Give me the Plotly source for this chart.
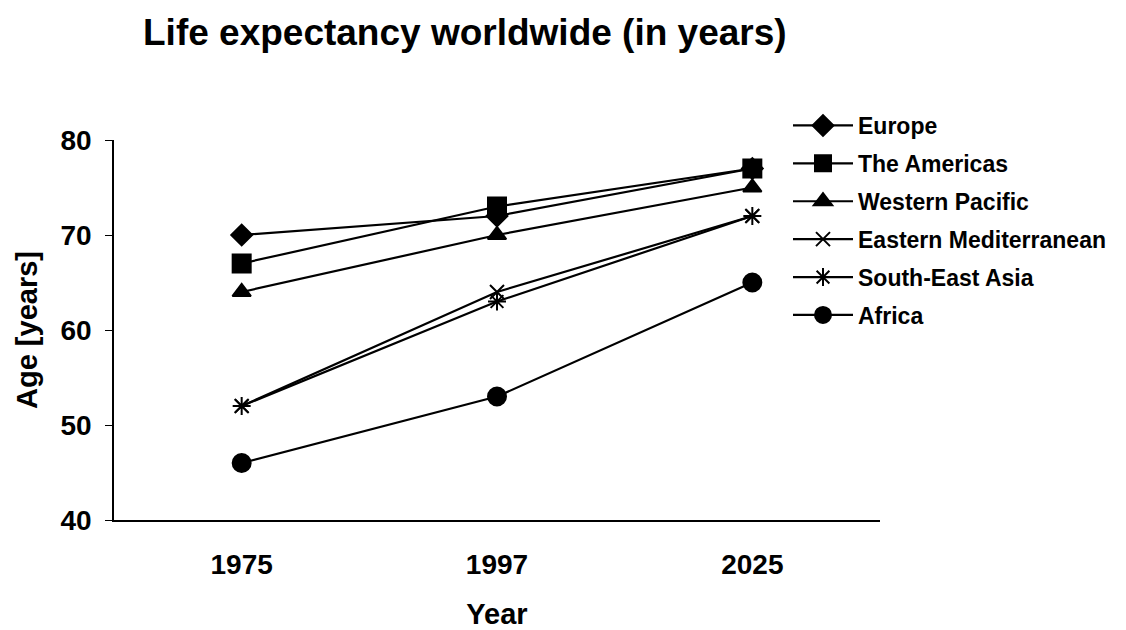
import plotly.graph_objects as go

years = ["1975", "1997", "2025"]
series_names = ["Europe", "The Americas", "Western Pacific",
                "Eastern Mediterranean", "South-East Asia", "Africa"]
europe = [70, 72, 77]
americas = [67, 73, 77]
western_pacific = [64, 70, 75]
eastern_med = [52, 64, 72]
se_asia = [52, 63, 72]
africa = [46, 53, 65]
y_ticks = [40, 50, 60, 70, 80]

values = [europe, americas, western_pacific, eastern_med, se_asia, africa]
symbols = ["diamond", "square", "triangle-up", "x-thin-open", "asterisk-open", "circle"]
sizes = [16, 18, 16, 14, 15, 18]

FONT = "Liberation Sans, Arial, sans-serif"
L, R, T, B = 114, 246, 140, 110
PW, PH = 1126 - L - R, 630 - T - B

fig = go.Figure()
for i, (name, vals, sym, sz) in enumerate(zip(series_names, values, symbols, sizes)):
    fig.add_trace(go.Scatter(
        x=years, y=vals, name="<b>%s</b>" % name, mode="lines+markers",
        legendgroup="g%d" % i,
        line=dict(color="black", width=2.2),
        marker=dict(symbol=sym, size=sz, color="black",
                    line=dict(color="black", width=2)),
    ))

fig.update_layout(
    width=1126, height=630,
    paper_bgcolor="white", plot_bgcolor="white",
    margin=dict(l=L, r=R, t=T, b=B),
    font=dict(family=FONT, color="black"),
    title=dict(text="<b>Life expectancy worldwide (in years)</b>",
               font=dict(size=37, family=FONT, color="black"),
               x=143 / 1126, xanchor="left", y=1 - 32 / 630, yanchor="middle"),
    legend=dict(x=(788 - L) / PW, xanchor="left",
                y=1 + (T - 104) / PH, yanchor="top",
                font=dict(size=23, family=FONT, color="black"),
                itemwidth=60, tracegroupgap=5,
                bgcolor="rgba(0,0,0,0)"),
    showlegend=True,
)
fig.update_xaxes(
    type="category", range=[-0.5, 2.5], automargin=False,
    showline=True, linecolor="black", linewidth=1.5,
    showgrid=False, ticks="", zeroline=False,
    tickfont=dict(size=28, family=FONT, color="black"),
    ticktext=["<b>%s</b>" % y for y in years], tickvals=years,
    ticklabelstandoff=19,
    title=dict(text="<b>Year</b>", font=dict(size=29, family=FONT, color="black"), standoff=27),
)
fig.update_yaxes(
    range=[40, 80], tickvals=y_ticks, automargin=False,
    ticktext=["<b>%d</b>" % v for v in y_ticks],
    showline=True, linecolor="black", linewidth=1.5,
    showgrid=False, ticks="outside", ticklen=7, tickcolor="black",
    zeroline=False,
    tickfont=dict(size=28, family=FONT, color="black"),
    ticklabelstandoff=8,
    title=dict(text="<b>Age [years]</b>", font=dict(size=29, family=FONT, color="black"), standoff=14),
)

fig.write_html("out.html", config={"displayModeBar": False},
               post_script="document.body.style.margin='0';")
